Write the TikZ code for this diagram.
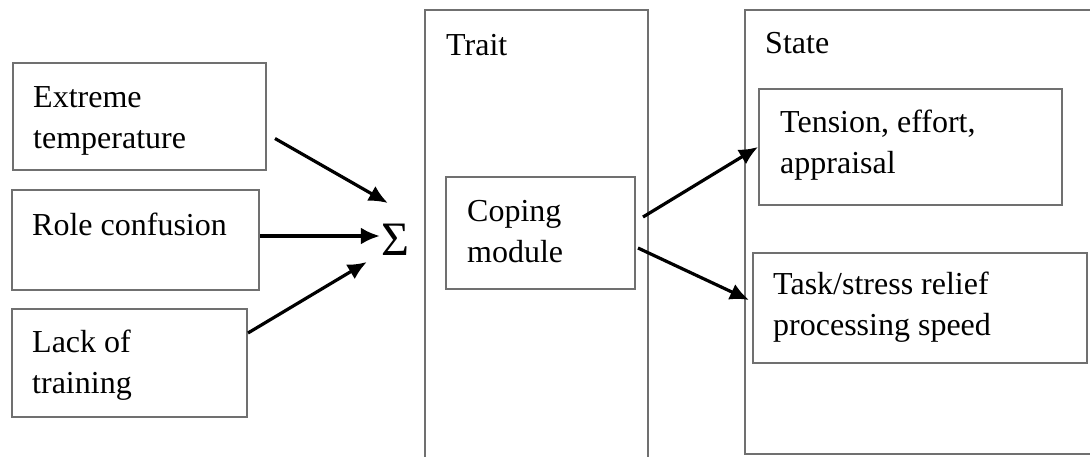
\documentclass[tikz,border=0pt]{standalone}
\usepackage{fontspec}
\setmainfont{Liberation Serif}
\usepackage{tikz}
\usetikzlibrary{arrows.meta,positioning,calc}
\definecolor{boxgray}{RGB}{112,112,112}

\begin{document}
\begin{tikzpicture}[
        x=1pt, y=-1pt,
        every node/.style={font=\fontsize{32}{41}\selectfont},
        box/.style={rectangle, draw=boxgray, line width=2pt, inner sep=0pt},
        txt/.style={anchor=base west, align=left, inner sep=0pt},
        arr/.style={-{Latex[length=19pt,width=17pt]}, line width=3.2pt}
    ]
        \clip (0,0) rectangle (1090,456);

        % stressors
        \node[box, minimum width=253pt, minimum height=107pt] (extreme) at (139.5,116.5) {};
        \node[box, minimum width=247pt, minimum height=100pt] (role) at (135.5,240) {};
        \node[box, minimum width=235pt, minimum height=108pt] (lack) at (129.5,363) {};
        \node[txt] at (33,148) {Extreme\\temperature};
        \node[txt] at (32,235) {Role confusion};
        \node[txt] at (32,393) {Lack of\\training};

        \node[inner sep=0pt, font=\fontsize{48}{48}\selectfont] (sum) at (395,240) {Σ};

        % trait and state columns
        \node[box, minimum width=223pt, minimum height=460pt] (trait) at (536.5,240) {};
        \node[box, minimum width=355pt, minimum height=444pt] (state) at (922.5,232) {};
        \node[txt] at (446,55) {Trait};
        \node[txt] at (765,53) {State};

        \node[box, minimum width=189pt, minimum height=112pt] (coping) at (540.5,233) {};
        \node[txt] at (467,262) {Coping\\module};

        \node[box, minimum width=303pt, minimum height=116pt] (tension) at (910.5,147) {};
        \node[box, minimum width=334pt, minimum height=110pt] (task) at (920,308) {};
        \node[txt] at (780,173) {Tension, effort,\\appraisal};
        \node[txt] at (773,335) {Task/stress relief\\processing speed};

        \draw[arr] ([shift={(8,22)}]extreme.east) -- ([shift={(7,-37)}]sum.west);
        \draw[arr] ([shift={(0,-4)}]role.east) -- ([shift={(-1,-4)}]sum.west);
        \draw[arr] ([shift={(0,-30)}]lack.east) -- ([shift={(-14,22)}]sum.west);

        \draw[arr] ([shift={(7,-16)}]coping.east) -- (tension.west);
        \draw[arr] ([shift={(2,15)}]coping.east) -- ([shift={(-3,-8)}]task.west);
    \end{tikzpicture}
\end{document}
